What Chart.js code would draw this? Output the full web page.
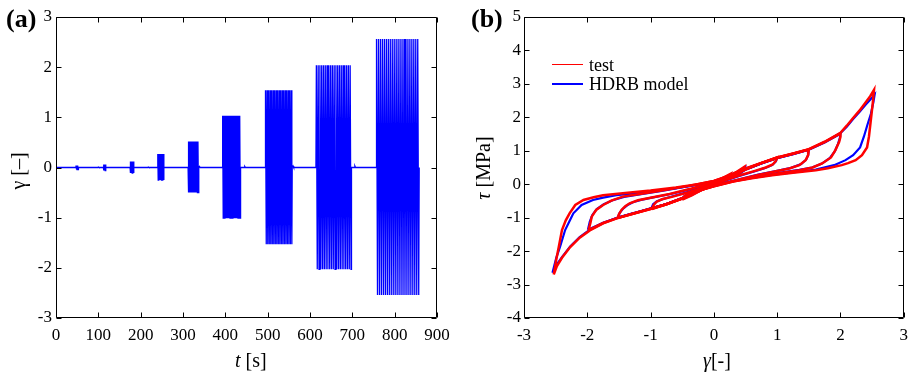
<!DOCTYPE html>
<html><head><meta charset="utf-8">
<script src="https://cdn.jsdelivr.net/npm/chart.js@4.4.0/dist/chart.umd.min.js"></script>
<style>
html,body{margin:0;padding:0;background:#fff;}
body{width:915px;height:374px;position:relative;overflow:hidden;font-family:'Liberation Serif','Times New Roman',serif;}
canvas{position:absolute;top:0;}
.t{position:absolute;white-space:nowrap;color:#000;font-family:'Liberation Serif','Times New Roman',serif;}
.rot{transform:translate(-50%,-50%) rotate(-90deg);}
.ln{position:absolute;}
</style></head><body>
<canvas id="ca" width="460" height="374" style="left:0"></canvas>
<canvas id="cb" width="455" height="374" style="left:460px"></canvas>

<div class="t" style="left:6px;top:6px;font-size:26px;line-height:26px;font-weight:bold">(a)</div>
<div class="t" style="left:471px;top:6px;font-size:26px;line-height:26px;font-weight:bold">(b)</div>
<div class="t" style="left:235px;top:350px;font-size:20px;line-height:20px"><i>t</i> [s]</div>
<div class="t" style="left:703px;top:350px;font-size:20px;line-height:20px"><i>γ</i>[-]</div>
<div class="t rot" style="left:18px;top:171px;font-size:20px;line-height:20px">γ [–]</div>
<div class="t rot" style="left:483px;top:168px;font-size:20px;line-height:20px"><i>τ</i> [MPa]</div>

<div class="ln" style="left:552px;top:64px;width:31px;height:1px;background:#ff0000"></div>
<div class="t" style="left:589px;top:55.6px;font-size:18px;line-height:18px">test</div>
<div class="ln" style="left:552px;top:82.5px;width:31px;height:2px;background:#0000ff"></div>
<div class="t" style="left:589px;top:75px;font-size:18px;line-height:18px">HDRB model</div>

<script>
// ---------- (a) shear strain history ----------
const burstStart  = [47, 112, 175, 240, 312, 393, 494, 614, 756];
const burstEnd    = [53, 118, 184, 255, 337, 436, 558, 698, 858];
const burstPeak   = [0.04, 0.06, 0.12, 0.27, 0.52, 1.03, 1.54, 2.04, 2.56];
const burstTrough = [-0.04, -0.06, -0.11, -0.25, -0.50, -1.01, -1.53, -2.03, -2.54];
const burstCycles = [4, 4, 5, 8, 11, 16, 18, 20, 22];
const blipTime    = [100, 218, 339, 446, 560, 706];
const blipValue   = [0.01, 0.01, 0.02, 0.02, 0.03, 0.03];
const tTicks = [0, 100, 200, 300, 400, 500, 600, 700, 800, 900];
const gTicksA = [-3, -2, -1, 0, 1, 2, 3];

// ---------- (b) hysteresis loops [gamma, tau] ----------
const testLoop25 = [[-2.53,-2.70],[-2.49,-2.25],[-2.45,-1.87],[-2.40,-1.37],[-2.34,-1.08],[-2.28,-0.87],[-2.19,-0.62],[-2.06,-0.47],[-1.90,-0.39],[-1.75,-0.33],[-1.40,-0.26],[-1.00,-0.19],[-0.60,-0.10],[-0.25,0.00],[0.00,0.10],[0.25,0.26],[0.50,0.47],[0.75,0.64],[1.00,0.80],[1.25,0.92],[1.50,1.05],[1.75,1.27],[2.00,1.54],[2.10,1.75],[2.20,1.98],[2.30,2.20],[2.40,2.45],[2.47,2.63],[2.53,2.82],
  [2.51,2.42],[2.48,1.92],[2.45,1.42],[2.42,1.10],[2.34,0.87],[2.24,0.72],[2.12,0.63],[2.02,0.57],[1.80,0.48],[1.61,0.42],[1.25,0.34],[0.92,0.27],[0.60,0.18],[0.30,0.08],[0.00,-0.06],[-0.25,-0.20],[-0.50,-0.43],[-0.75,-0.60],[-1.02,-0.75],[-1.30,-0.89],[-1.54,-1.02],[-1.75,-1.17],[-1.96,-1.38],[-2.12,-1.60],[-2.27,-1.88],[-2.40,-2.20],[-2.48,-2.45],[-2.53,-2.70]];
const testLoop20 = [[-1.98,-1.37],[-1.95,-1.15],[-1.93,-0.97],[-1.86,-0.77],[-1.75,-0.62],[-1.62,-0.49],[-1.44,-0.37],[-1.17,-0.29],[-0.80,-0.18],[-0.40,-0.05],[0.00,0.10],[0.25,0.25],[0.50,0.46],[0.75,0.63],[1.00,0.79],[1.25,0.91],[1.50,1.04],[1.75,1.26],[2.00,1.52],
  [2.00,1.42],[1.98,1.27],[1.92,1.02],[1.85,0.80],[1.71,0.62],[1.56,0.50],[1.35,0.42],[1.00,0.32],[0.60,0.19],[0.30,0.08],[0.00,-0.06],[-0.25,-0.20],[-0.50,-0.42],[-0.75,-0.60],[-1.00,-0.74],[-1.25,-0.87],[-1.50,-1.00],[-1.75,-1.16],[-1.98,-1.37]];
const testLoop15 = [[-1.52,-1.01],[-1.50,-0.90],[-1.46,-0.77],[-1.40,-0.66],[-1.33,-0.57],[-1.20,-0.48],[-1.02,-0.41],[-0.70,-0.29],[-0.35,-0.13],[0.00,0.06],[0.25,0.24],[0.50,0.45],[0.75,0.63],[1.00,0.79],[1.25,0.91],[1.50,1.04],
  [1.49,0.87],[1.45,0.72],[1.35,0.57],[1.19,0.47],[0.98,0.39],[0.70,0.28],[0.40,0.14],[0.00,-0.05],[-0.25,-0.20],[-0.50,-0.42],[-0.75,-0.60],[-1.00,-0.73],[-1.25,-0.87],[-1.52,-1.01]];
const testLoop10 = [[-0.98,-0.74],[-0.95,-0.62],[-0.91,-0.53],[-0.82,-0.45],[-0.65,-0.37],[-0.40,-0.24],[-0.20,-0.12],[0.00,0.02],[0.25,0.22],[0.50,0.44],[0.75,0.63],[1.00,0.80],
  [0.98,0.70],[0.93,0.59],[0.82,0.50],[0.65,0.40],[0.40,0.26],[0.20,0.13],[0.00,-0.02],[-0.25,-0.22],[-0.50,-0.43],[-0.75,-0.60],[-0.98,-0.74]];
const testLoop05 = [[-0.50,-0.46],[-0.47,-0.37],[-0.42,-0.30],[-0.30,-0.21],[-0.15,-0.08],[0.00,0.06],[0.20,0.22],[0.35,0.36],[0.48,0.52],
  [0.46,0.42],[0.42,0.35],[0.30,0.26],[0.15,0.14],[0.00,0.00],[-0.20,-0.18],[-0.35,-0.33],[-0.50,-0.46]];
const testLoop025 = [[-0.25,-0.22],[-0.22,-0.16],[-0.15,-0.09],[0.00,0.05],[0.12,0.17],[0.25,0.30],
  [0.23,0.24],[0.17,0.18],[0.05,0.08],[-0.10,-0.06],[-0.25,-0.22]];

const modelLoop25 = [[-2.55,-2.65],[-2.49,-2.20],[-2.43,-1.87],[-2.35,-1.37],[-2.28,-1.10],[-2.22,-0.87],[-2.09,-0.62],[-1.91,-0.47],[-1.75,-0.40],[-1.54,-0.33],[-1.00,-0.22],[-0.60,-0.12],[-0.25,-0.01],[0.00,0.09],[0.25,0.25],[0.50,0.46],[0.75,0.63],[1.00,0.79],[1.25,0.91],[1.50,1.04],[1.75,1.26],[2.00,1.53],[2.10,1.72],[2.20,1.95],[2.30,2.16],[2.40,2.38],[2.48,2.55],[2.54,2.68],
  [2.52,2.45],[2.48,2.10],[2.43,1.80],[2.37,1.42],[2.31,1.10],[2.20,0.87],[2.08,0.72],[1.90,0.57],[1.61,0.44],[1.25,0.35],[0.92,0.28],[0.60,0.19],[0.30,0.09],[0.00,-0.05],[-0.25,-0.19],[-0.50,-0.42],[-0.75,-0.59],[-1.02,-0.74],[-1.30,-0.88],[-1.54,-1.01],[-1.75,-1.16],[-1.96,-1.36],[-2.12,-1.58],[-2.27,-1.86],[-2.40,-2.18],[-2.49,-2.42],[-2.55,-2.65]];
const modelLoop20 = [[-1.99,-1.36],[-1.96,-1.12],[-1.92,-0.92],[-1.85,-0.74],[-1.74,-0.60],[-1.60,-0.48],[-1.42,-0.38],[-1.15,-0.30],[-0.80,-0.19],[-0.40,-0.06],[0.00,0.09],[0.25,0.24],[0.50,0.45],[0.75,0.62],[1.00,0.78],[1.25,0.90],[1.50,1.03],[1.75,1.25],[2.00,1.51],
  [1.99,1.38],[1.96,1.20],[1.91,0.98],[1.83,0.78],[1.70,0.61],[1.55,0.50],[1.35,0.43],[1.00,0.33],[0.60,0.20],[0.30,0.09],[0.00,-0.05],[-0.25,-0.19],[-0.50,-0.41],[-0.75,-0.59],[-1.00,-0.73],[-1.25,-0.86],[-1.50,-0.99],[-1.75,-1.15],[-1.99,-1.36]];
const modelLoop15 = [[-1.52,-1.00],[-1.49,-0.86],[-1.44,-0.74],[-1.37,-0.63],[-1.28,-0.54],[-1.15,-0.47],[-1.00,-0.41],[-0.70,-0.30],[-0.35,-0.14],[0.00,0.05],[0.25,0.23],[0.50,0.44],[0.75,0.62],[1.00,0.78],[1.25,0.90],[1.50,1.03],
  [1.49,0.88],[1.46,0.74],[1.38,0.60],[1.22,0.49],[1.00,0.40],[0.70,0.29],[0.40,0.15],[0.00,-0.04],[-0.25,-0.19],[-0.50,-0.41],[-0.75,-0.59],[-1.00,-0.72],[-1.25,-0.86],[-1.52,-1.00]];
const modelLoop10 = [[-0.99,-0.73],[-0.96,-0.60],[-0.90,-0.51],[-0.80,-0.44],[-0.65,-0.36],[-0.40,-0.23],[-0.20,-0.11],[0.00,0.03],[0.25,0.22],[0.50,0.43],[0.75,0.62],[1.00,0.79],
  [0.98,0.68],[0.92,0.57],[0.80,0.48],[0.65,0.39],[0.40,0.25],[0.20,0.12],[0.00,-0.03],[-0.25,-0.21],[-0.50,-0.42],[-0.75,-0.59],[-0.99,-0.73]];
const modelLoop05 = [[-0.50,-0.45],[-0.47,-0.36],[-0.41,-0.29],[-0.30,-0.20],[-0.15,-0.08],[0.00,0.05],[0.20,0.21],[0.35,0.35],[0.49,0.50],
  [0.47,0.40],[0.42,0.33],[0.30,0.25],[0.15,0.13],[0.00,0.00],[-0.20,-0.17],[-0.35,-0.32],[-0.50,-0.45]];
const modelLoop025 = [[-0.25,-0.21],[-0.22,-0.15],[-0.15,-0.08],[0.00,0.05],[0.12,0.16],[0.25,0.28],
  [0.23,0.22],[0.17,0.17],[0.05,0.07],[-0.10,-0.06],[-0.25,-0.21]];
const gTicksB = [-3, -2, -1, 0, 1, 2, 3];
const tauTicks = [-4, -3, -2, -1, 0, 1, 2, 3, 4, 5];

const testLoops  = [testLoop25, testLoop20, testLoop15, testLoop10, testLoop05, testLoop025];
const modelLoops = [modelLoop25, modelLoop20, modelLoop15, modelLoop10, modelLoop05, modelLoop025];

// ---------- build strain history points from the burst table ----------
const history = [{x:0, y:0}];
const extra = [];
for (let i = 0; i < burstStart.length; i++) {
  const s = burstStart[i], e = burstEnd[i], n = burstCycles[i], T = (e - s) / n;
  extra.push({x:s, y:0});
  for (let k = 0; k < n; k++) {
    extra.push({x:s + (k + 0.25) * T, y:burstPeak[i]});
    extra.push({x:s + (k + 0.75) * T, y:burstTrough[i]});
  }
  extra.push({x:e, y:0});
}
for (let i = 0; i < blipTime.length; i++) {
  extra.push({x:blipTime[i] - 1.5, y:0}, {x:blipTime[i], y:blipValue[i]}, {x:blipTime[i] + 1.5, y:0});
}
extra.sort((a, b) => a.x - b.x);
history.push(...extra);

Chart.defaults.font.family = 'Liberation Serif';
const FONT = {family:'Liberation Serif', size:17};

const frame = {
  id:'frame',
  afterDraw(chart){
    const {ctx, chartArea:a, scales:{x, y}} = chart;
    ctx.save();
    ctx.strokeStyle = '#000'; ctx.lineWidth = 1;
    const L = Math.round(a.left) + 0.5, R = Math.round(a.right) - 0.5, T = Math.round(a.top) + 0.5, B = Math.round(a.bottom) - 0.5;
    ctx.beginPath();
    ctx.rect(L, T, R - L, B - T);
    x.ticks.forEach(t => { const p = Math.round(x.getPixelForValue(t.value)) + 0.5; ctx.moveTo(p, B); ctx.lineTo(p, B - 5); ctx.moveTo(p, T); ctx.lineTo(p, T + 5); });
    y.ticks.forEach(t => { const p = Math.round(y.getPixelForValue(t.value)) + 0.5; ctx.moveTo(L, p); ctx.lineTo(L + 5, p); ctx.moveTo(R, p); ctx.lineTo(R - 5, p); });
    ctx.stroke();
    ctx.restore();
  }
};

function axes(xmin, xmax, xticks, ymin, ymax, yticks, yw, ypad) {
  return {
    x: {type:'linear', min:xmin, max:xmax,
        afterBuildTicks: s => { s.ticks = xticks.map(v => ({value:v})); },
        ticks:{font:FONT, color:'#000', padding:7, maxRotation:0, autoSkip:false},
        grid:{display:false, drawTicks:false}, border:{display:false},
        afterFit: s => { s.height = 56; }},
    y: {type:'linear', min:ymin, max:ymax,
        afterBuildTicks: s => { s.ticks = yticks.map(v => ({value:v})); },
        ticks:{font:FONT, color:'#000', padding:ypad, autoSkip:false},
        grid:{display:false, drawTicks:false}, border:{display:false},
        afterFit: s => { s.width = yw; }}
  };
}

new Chart(document.getElementById('ca'), {
  type:'scatter',
  data:{datasets:[{data:history, showLine:true, borderColor:'#0000ff', borderWidth:1.3, pointRadius:0, tension:0}]},
  options:{responsive:false, animation:false, events:[],
    layout:{padding:{left:0, right:23, top:17, bottom:0}},
    plugins:{legend:{display:false}, tooltip:{enabled:false}},
    scales:axes(0, 900, tTicks, -3, 3, gTicksA, 56, 4)},
  plugins:[frame]
});

const dsB = [];
testLoops.forEach(l => dsB.push({data:l.map(p => ({x:p[0], y:p[1]})), showLine:true, borderColor:'#ff0000', borderWidth:2.5, pointRadius:0, tension:0}));
modelLoops.forEach(l => dsB.push({data:l.map(p => ({x:p[0], y:p[1]})), showLine:true, borderColor:'#0000ff', borderWidth:2.2, pointRadius:0, tension:0}));

new Chart(document.getElementById('cb'), {
  type:'scatter',
  data:{datasets:dsB},
  options:{responsive:false, animation:false, events:[],
    layout:{padding:{left:0, right:10, top:17, bottom:0}},
    plugins:{legend:{display:false}, tooltip:{enabled:false}},
    scales:axes(-3, 3, gTicksB, -4, 5, tauTicks, 64, 3)},
  plugins:[frame]
});
</script>
</body></html>
